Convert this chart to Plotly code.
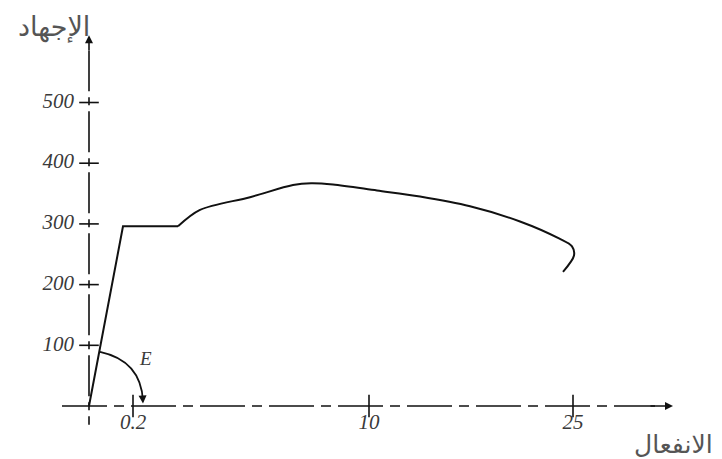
import plotly.graph_objects as go

# schematic stress-strain diagram; x is a schematic strain position (not to scale)
ELASTIC_X = [0, 34, 89]
ELASTIC_Y = [0, 296, 296]

HARDEN_X = [89, 111, 161, 204, 222, 244, 288, 331, 381, 431, 470, 483, 485, 474]
HARDEN_Y = [296, 323, 344, 364, 367, 365, 355, 345, 329, 304, 276, 263, 248, 221]

Y_TICKS = [100, 200, 300, 400, 500]
Y_TICK_TEXT = ["100", "200", "300", "400", "500"]
X_TICK_POS = [44, 280, 484]
X_TICK_TEXT = ["0.2", "10", "25"]

Y_LABEL = "الإجهاد"
X_LABEL = "الانفعال"

INK = "#111111"
TEXT_GRAY = "#3a3a3a"
SERIF = "Liberation Serif, DejaVu Serif, serif"

fig = go.Figure()

# axes drawn as dash-dot lines
fig.add_trace(go.Scatter(
    x=[0, 0], y=[586, -31], mode="lines",
    line=dict(color=INK, width=1.6, dash="41px,6px,8px,6px"),
    hoverinfo="skip",
))
fig.add_trace(go.Scatter(
    x=[-27, 566], y=[0, 0], mode="lines",
    line=dict(color=INK, width=1.6, dash="45px,7px,10px,7px"),
    hoverinfo="skip",
))

# tick crosses
fig.add_trace(go.Scatter(
    x=[0] * len(Y_TICKS), y=Y_TICKS, mode="markers",
    marker=dict(symbol="line-ew", size=14, line=dict(color=INK, width=1.6)),
    hoverinfo="skip",
))
fig.add_trace(go.Scatter(
    x=X_TICK_POS, y=[0] * len(X_TICK_POS), mode="markers",
    marker=dict(symbol="line-ns", size=16, line=dict(color=INK, width=1.6)),
    hoverinfo="skip",
))

# tick labels
fig.add_trace(go.Scatter(
    x=[-15] * len(Y_TICKS), y=Y_TICKS, mode="text",
    text=Y_TICK_TEXT, textposition="middle left",
    textfont=dict(family=SERIF, size=21, color=TEXT_GRAY, style="italic"),
    hoverinfo="skip",
))
fig.add_trace(go.Scatter(
    x=X_TICK_POS, y=[-30] * len(X_TICK_POS), mode="text",
    text=X_TICK_TEXT, textposition="middle center",
    textfont=dict(family=SERIF, size=21, color=TEXT_GRAY, style="italic"),
    hoverinfo="skip",
))

# the curve
fig.add_trace(go.Scatter(
    x=ELASTIC_X, y=ELASTIC_Y, mode="lines",
    line=dict(color=INK, width=2), hoverinfo="skip",
))
fig.add_trace(go.Scatter(
    x=HARDEN_X, y=HARDEN_Y, mode="lines",
    line=dict(color=INK, width=2, shape="spline", smoothing=0.9), hoverinfo="skip",
))

# modulus arc E
fig.add_shape(
    type="path", path="M 11,89 Q 52,74.5 54,8",
    line=dict(color=INK, width=1.8), xref="x", yref="y",
)

arrows = [
    dict(x=0, y=611, ax=0, ay=584),
    dict(x=584, y=0, ax=560, ay=0),
    dict(x=54, y=4, ax=53.6, ay=16),
]
for a in arrows:
    fig.add_annotation(
        x=a["x"], y=a["y"], ax=a["ax"], ay=a["ay"], xref="x", yref="y",
        axref="x", ayref="y", text="", showarrow=True,
        arrowhead=2, arrowsize=1, arrowwidth=1.6, arrowcolor=INK,
    )

fig.add_annotation(
    x=56, y=79, text="E", showarrow=False, xref="x", yref="y",
    font=dict(family=SERIF, size=19, color=TEXT_GRAY, style="italic"),
)
fig.add_annotation(
    x=-35, y=625, text=Y_LABEL, showarrow=False, xref="x", yref="y",
    font=dict(family="DejaVu Sans", size=27, color="#555555"),
)
fig.add_annotation(
    x=584, y=-64, text=X_LABEL, showarrow=False, xref="x", yref="y",
    font=dict(family="DejaVu Sans", size=25, color="#555555"),
)

# the page adds an 8px body margin, so the figure is 8px smaller each way
fig.update_layout(
    width=714, height=451,
    margin=dict(l=0, r=0, t=0, b=0),
    paper_bgcolor="white", plot_bgcolor="white",
    showlegend=False,
    xaxis=dict(range=[-81, 633], visible=False, fixedrange=True),
    yaxis=dict(range=[-87.3, 655.7], visible=False, fixedrange=True),
)

fig.write_html("out.html")
